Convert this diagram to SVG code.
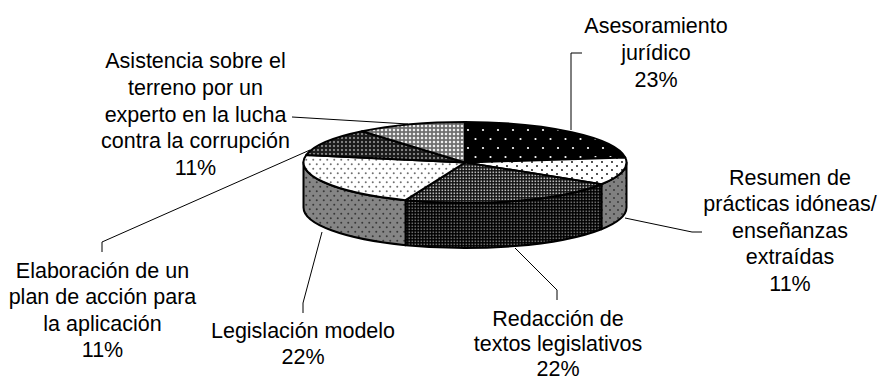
<svg xmlns="http://www.w3.org/2000/svg" width="878" height="381" viewBox="0 0 878 381">
<style>
  text { font-family: "Liberation Sans", Arial, sans-serif; font-size: 21.5px; fill: #000; text-anchor: middle; }
  .lead { fill: none; stroke: #000; stroke-width: 1; }
  .slice { stroke: #000; stroke-width: 2; stroke-linejoin: round; }
</style>
<defs>
  <pattern id="pAses" width="15" height="18" patternUnits="userSpaceOnUse">
    <rect width="15" height="18" fill="#000"/>
    <circle cx="3" cy="4" r="1.1" fill="#fff"/>
    <circle cx="10.5" cy="13" r="1.1" fill="#fff"/>
  </pattern>
  <pattern id="pResTop" width="10" height="8" patternUnits="userSpaceOnUse">
    <rect width="10" height="8" fill="#fff"/>
    <circle cx="2" cy="2" r="0.9" fill="#000"/>
    <circle cx="7" cy="6" r="0.9" fill="#000"/>
  </pattern>
  <pattern id="pResSide" width="8" height="8" patternUnits="userSpaceOnUse">
    <rect width="8" height="8" fill="#808080"/>
    <circle cx="2" cy="2" r="0.9" fill="#303030"/>
    <circle cx="6" cy="6" r="0.9" fill="#303030"/>
  </pattern>
  <pattern id="pRedTop" width="3" height="3" patternUnits="userSpaceOnUse">
    <rect width="3" height="3" fill="#111"/>
    <rect x="0.5" y="0.5" width="1.6" height="1.6" fill="#b8b8b8"/>
  </pattern>
  <pattern id="pRedSide" width="3" height="3" patternUnits="userSpaceOnUse">
    <rect width="3" height="3" fill="#000"/>
    <rect x="0.5" y="0.5" width="1.6" height="1.6" fill="#6a6a6a"/>
  </pattern>
  <pattern id="pLegTop" width="7" height="9" patternUnits="userSpaceOnUse">
    <rect width="7" height="9" fill="#fff"/>
    <circle cx="1.75" cy="2.25" r="1" fill="#707070"/>
    <circle cx="5.25" cy="6.75" r="1" fill="#707070"/>
  </pattern>
  <pattern id="pLegSide" width="7" height="9" patternUnits="userSpaceOnUse">
    <rect width="7" height="9" fill="#858585"/>
    <circle cx="1.75" cy="2.25" r="1" fill="#383838"/>
    <circle cx="5.25" cy="6.75" r="1" fill="#383838"/>
  </pattern>
  <pattern id="pElab" width="4" height="4" patternUnits="userSpaceOnUse">
    <rect width="4" height="4" fill="#1a1a1a"/>
    <polygon points="2,0.8 3.2,2 2,3.2 0.8,2" fill="#a8a8a8"/>
  </pattern>
  <pattern id="pAsis" width="4" height="4" patternUnits="userSpaceOnUse">
    <rect width="4" height="4" fill="#6e6e6e"/>
    <polygon points="2,0.5 3.5,2 2,3.5 0.5,2" fill="#fff"/>
  </pattern>
</defs>
<rect width="878" height="381" fill="#fff"/>

<g id="pie">
  <g id="sides">
    <path class="slice" fill="url(#pResSide)" d="M626.5,162.5 A161.5,40.5 0 0 1 601.36,184.2 L601.36,229.2 A161.5,40.5 0 0 0 626.5,207.5 Z"/>
    <path class="slice" fill="url(#pRedSide)" d="M601.36,184.2 A161.5,40.5 0 0 1 405.55,200.16 L405.55,245.16 A161.5,40.5 0 0 0 601.36,229.2 Z"/>
    <path class="slice" fill="url(#pLegSide)" d="M405.55,200.16 A161.5,40.5 0 0 1 303.5,162.5 L303.5,207.5 A161.5,40.5 0 0 0 405.55,245.16 Z"/>
  </g>
  <g id="slice-asesoramiento">
    <path class="slice" fill="url(#pAses)" d="M465,162.5 L465,122 A161.5,40.5 0 0 1 625.23,157.42 Z"/>
  </g>
  <g id="slice-resumen">
    <path class="slice" fill="url(#pResTop)" d="M465,162.5 L625.23,157.42 A161.5,40.5 0 0 1 601.36,184.2 Z"/>
  </g>
  <g id="slice-redaccion">
    <path class="slice" fill="url(#pRedTop)" d="M465,162.5 L601.36,184.2 A161.5,40.5 0 0 1 405.55,200.16 Z"/>
  </g>
  <g id="slice-legislacion">
    <path class="slice" fill="url(#pLegTop)" d="M465,162.5 L405.55,200.16 A161.5,40.5 0 0 1 306.36,154.91 Z"/>
  </g>
  <g id="slice-elaboracion">
    <path class="slice" fill="url(#pElab)" d="M465,162.5 L306.36,154.91 A161.5,40.5 0 0 1 362.06,131.29 Z"/>
  </g>
  <g id="slice-asistencia">
    <path class="slice" fill="url(#pAsis)" d="M465,162.5 L362.06,131.29 A161.5,40.5 0 0 1 465,122 Z"/>
  </g>
</g>

<g id="connectors">
  <polyline class="lead" points="571,130 571,53 582,53"/>
  <polyline class="lead" points="625,218 692,232 702,232"/>
  <polyline class="lead" points="515,248 557,290 557,300"/>
  <polyline class="lead" points="322,232 303,303 303,313"/>
  <polyline class="lead" points="310,150 102,242 102,252"/>
  <polyline class="lead" points="408,124 292,117"/>
</g>

<g id="label-asesoramiento">
  <text x="656" y="33">Asesoramiento</text>
  <text x="656" y="60">jurídico</text>
  <text x="656" y="87">23%</text>
</g>
<g id="label-resumen">
  <text x="790" y="184.5">Resumen de</text>
  <text x="790" y="211">prácticas idóneas/</text>
  <text x="790" y="237.7">enseñanzas</text>
  <text x="790" y="264.3">extraídas</text>
  <text x="790" y="291">11%</text>
</g>
<g id="label-redaccion">
  <text x="558" y="325.5">Redacción de</text>
  <text x="558" y="351">textos legislativos</text>
  <text x="558" y="376">22%</text>
</g>
<g id="label-legislacion">
  <text x="303" y="337.7">Legislación modelo</text>
  <text x="303" y="364.3">22%</text>
</g>
<g id="label-elaboracion">
  <text x="102.5" y="277.5">Elaboración de un</text>
  <text x="102.5" y="304">plan de acción para</text>
  <text x="102.5" y="330.5">la aplicación</text>
  <text x="102.5" y="357">11%</text>
</g>
<g id="label-asistencia">
  <text x="195.5" y="68.3">Asistencia sobre el</text>
  <text x="195.5" y="95">terreno por un</text>
  <text x="195.5" y="121.7">experto en la lucha</text>
  <text x="195.5" y="148.3">contra la corrupción</text>
  <text x="195.5" y="175">11%</text>
</g>
</svg>
